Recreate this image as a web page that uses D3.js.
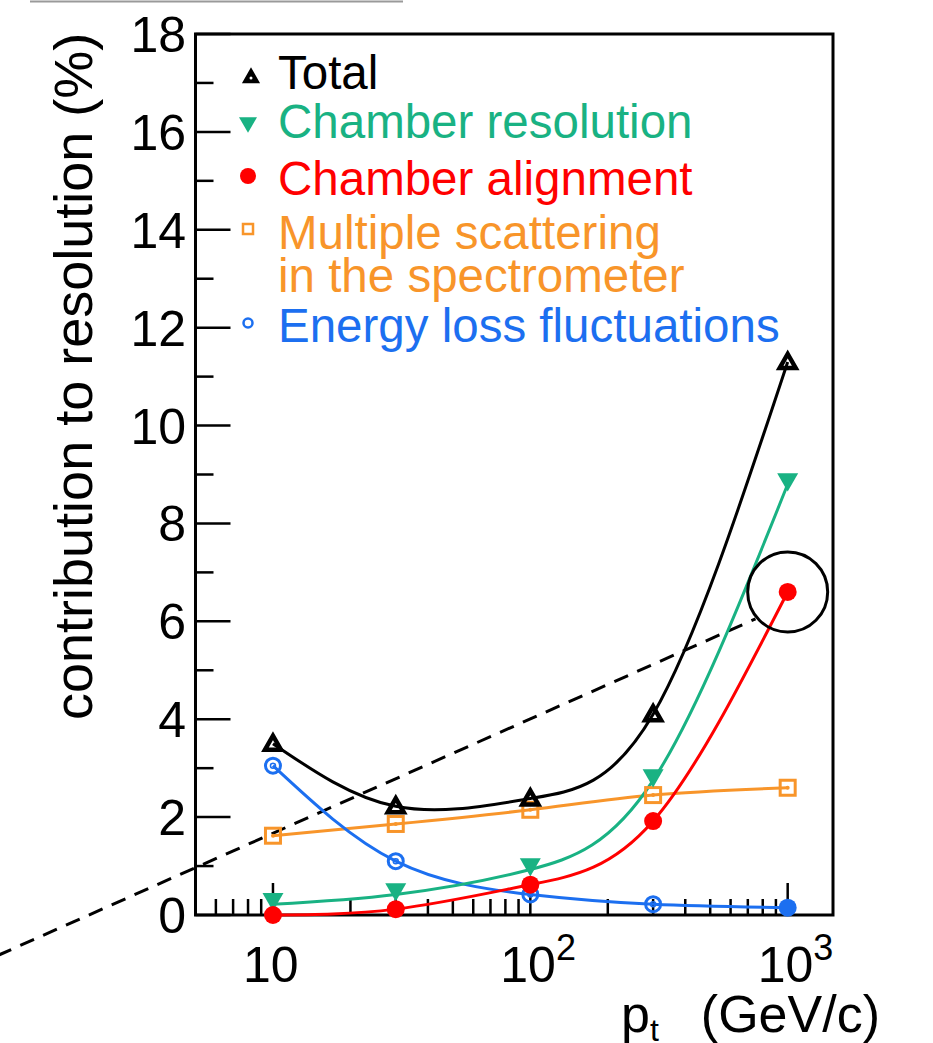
<!DOCTYPE html>
<html><head><meta charset="utf-8">
<script src="https://cdn.jsdelivr.net/npm/d3@7"></script>
<style>body{margin:0;background:#fff}svg{display:block}text{font-family:"Liberation Sans",Arial,sans-serif}</style>
</head><body><svg id="c" width="933" height="1043"></svg>
<script>
// ---- data ----
const pt = [10, 30, 100, 300, 1000];
const total = [3.5, 2.22, 2.38, 4.1, 11.3];
const chamberRes = [0.22, 0.42, 0.93, 2.75, 8.8];
const chamberAlign = [0.0, 0.12, 0.62, 1.92, 6.6];
const multScat = [1.62, 1.86, 2.15, 2.45, 2.6];
const energyLoss = [3.05, 1.1, 0.42, 0.22, 0.15];
const dashX = [0.85, 750];
const dashY = [-0.83, 6.05];
const yTicks = [0, 2, 4, 6, 8, 10, 12, 14, 16, 18];
const xTickLabels = [{v:10, base:"10", sup:""}, {v:100, base:"10", sup:"2"}, {v:1000, base:"10", sup:"3"}];
const legendLabels = ["Total", "Chamber resolution", "Chamber alignment", "Multiple scattering", "in the spectrometer", "Energy loss fluctuations"];

const svg = d3.select("#c");
const L = 195.5, R = 833, T = 34, B = 915;
const x = d3.scaleLog().domain([5, 1500]).range([L, R]);
const y = d3.scaleLinear().domain([0, 18]).range([B, T]);

const C = {black:"#000", green:"#19b283", red:"#ff0000", orange:"#f8952a", blue:"#1c6ff0"};

// top grey line
svg.append("line").attr("x1",30).attr("x2",403).attr("y1",1.5).attr("y2",1.5).attr("stroke","#9a9a9a").attr("stroke-width",2);

// frame
svg.append("rect").attr("x",L).attr("y",T).attr("width",R-L).attr("height",B-T).attr("fill","none").attr("stroke","#000").attr("stroke-width",3);

// y ticks
const yMinor = d3.range(0, 18.001, 1);
svg.append("g").selectAll("line").data(yMinor).join("line")
  .attr("x1",L).attr("x2",d => d%2===0 ? L+35 : L+18)
  .attr("y1",d=>y(d)).attr("y2",d=>y(d)).attr("stroke","#000").attr("stroke-width",2.5);
svg.append("g").selectAll("text").data(yTicks).join("text")
  .attr("x",186).attr("y",d=>y(d)+18).attr("text-anchor","end").attr("font-size",50).text(d=>d);

// x ticks
const xMinor = [];
[1,10,100,1000].forEach(dec => { for (let k=1;k<10;k++){ const v=k*dec; if (v>5 && v<1500) xMinor.push(v);} });
svg.append("g").selectAll("line").data(xMinor).join("line")
  .attr("x1",d=>x(d)).attr("x2",d=>x(d)).attr("y1",B)
  .attr("y2",d => [10,100,1000].includes(d) ? B-32 : B-16)
  .attr("stroke","#000").attr("stroke-width",2.5);
const xl = svg.append("g").selectAll("text").data(xTickLabels).join("text")
  .attr("x",d=>x(d.v)-30).attr("y",982).attr("font-size",50);
xl.append("tspan").text(d=>d.base);
xl.append("tspan").attr("dy",-22).attr("font-size",36).text(d=>d.sup);

// axis titles
const xt = svg.append("text").attr("x",880).attr("y",1032).attr("text-anchor","end").attr("font-size",52);
xt.append("tspan").text("p");
xt.append("tspan").attr("dy",9).attr("font-size",32).text("t");
xt.append("tspan").attr("dy",-9).attr("dx",42).text("(GeV/c)");
svg.append("text").attr("transform","translate(92,720) rotate(-90)").attr("font-size",54).text("contribution to resolution (%)");

// dashed line
svg.append("path").datum(dashX.map((v,i)=>[v,dashY[i]]))
  .attr("d", d3.line().x(d=>x(d[0])).y(d=>y(d[1])))
  .attr("fill","none").attr("stroke","#000").attr("stroke-width",3).attr("stroke-dasharray","15,10");

// series lines
const series = [
  {vals:total, color:C.black},
  {vals:multScat, color:C.orange},
  {vals:energyLoss, color:C.blue},
  {vals:chamberRes, color:C.green},
  {vals:chamberAlign, color:C.red},
];
const line = d3.line().x(d=>x(d[0])).y(d=>y(d[1])).curve(d3.curveNatural);
series.forEach(s => {
  svg.append("path").datum(pt.map((p,i)=>[p,s.vals[i]])).attr("d",line)
    .attr("fill","none").attr("stroke",s.color).attr("stroke-width",3);
});

// marker helpers
function triUp(g, cx, cy, w, color, fill, sw){
  const h = w*0.87;
  g.append("path").attr("d",`M${cx-w/2},${cy+h/2}L${cx+w/2},${cy+h/2}L${cx},${cy-h/2}Z`)
    .attr("fill",fill).attr("stroke",color).attr("stroke-width",sw).attr("stroke-linejoin","miter");
}
function triDown(g, cx, cy, w, color){
  const h = w*0.87;
  g.append("path").attr("d",`M${cx-w/2},${cy-h/2}L${cx+w/2},${cy-h/2}L${cx},${cy+h/2}Z`).attr("fill",color);
}
function circ(g, cx, cy, r, color, filled, sw){
  g.append("circle").attr("cx",cx).attr("cy",cy).attr("r",r)
    .attr("fill",filled?color:"none").attr("stroke",color).attr("stroke-width",filled?0:sw);
}
function sq(g, cx, cy, s, color, sw){
  g.append("rect").attr("x",cx-s/2).attr("y",cy-s/2).attr("width",s).attr("height",s)
    .attr("fill","none").attr("stroke",color).attr("stroke-width",sw);
}

const mk = svg.append("g");
pt.forEach((p,i)=>{
  sq(mk, x(p), y(multScat[i]), 15, C.orange, 3);
  mk.append("circle").attr("cx",x(p)).attr("cy",y(multScat[i])).attr("r",2).attr("fill",C.orange);
});
pt.forEach((p,i)=>{
  if (i===pt.length-1) circ(mk, x(p), y(energyLoss[i]), 9, C.blue, true);
  else { circ(mk, x(p), y(energyLoss[i]), 7.5, C.blue, false, 3); circ(mk, x(p), y(energyLoss[i]), 2.5, C.blue, false, 1.5); }
});
pt.forEach((p,i)=> triDown(mk, x(p), y(chamberRes[i])-2, 21, C.green));
pt.forEach((p,i)=> circ(mk, x(p), y(chamberAlign[i]), 9, C.red, true));
pt.forEach((p,i)=> triUp(mk, x(p), y(total[i])-1, 16, C.black, "none", 4.5));

// circle around last chamber alignment point
svg.append("circle").attr("cx",x(1000)).attr("cy",y(chamberAlign[4])).attr("r",40)
  .attr("fill","none").attr("stroke","#000").attr("stroke-width",3);

// legend
const lg = svg.append("g");
const lx = 248, tx = 278;
const baselines = [89, 138, 195, 249, 292, 342];
const colors = [C.black, C.green, C.red, C.orange, C.orange, C.blue];
legendLabels.forEach((lab,i)=>{
  lg.append("text").attr("x",tx).attr("y",baselines[i]).attr("font-size",47.5).attr("fill",colors[i]).text(lab);
});
triUp(lg, 251, 76, 13, C.black, "#000", 3);
lg.append("circle").attr("cx",251).attr("cy",78).attr("r",1.5).attr("fill","#fff");
triDown(lg, lx, 125, 18, C.green);
circ(lg, lx, 176, 8, C.red, true);
sq(lg, lx, 229, 10, C.orange, 2.5);
circ(lg, lx, 323, 4.5, C.blue, false, 2.5);
</script></body></html>
